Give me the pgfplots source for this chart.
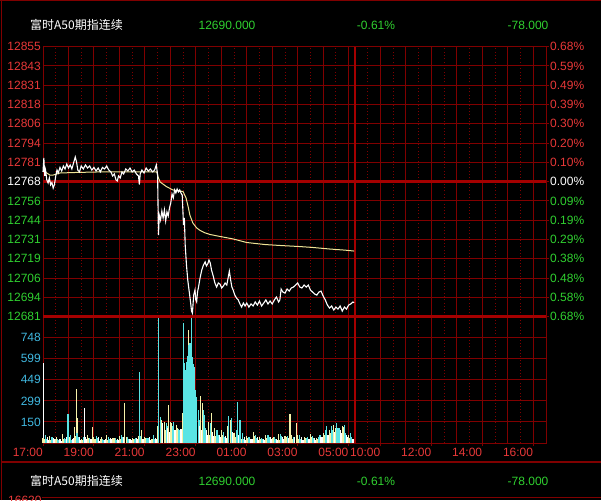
\documentclass[border=0pt]{standalone}
\usepackage{pgfplots}
\pgfplotsset{compat=1.18}
\usepackage{fontspec}
\setmainfont{Liberation Sans}
\newfontfamily\cjk{Noto Sans CJK SC}
\definecolor{gridred}{RGB}{128,0,0}
\definecolor{thickred}{RGB}{165,0,0}
\definecolor{lblred}{RGB}{232,56,56}
\definecolor{lblgreen}{RGB}{48,208,48}
\definecolor{lblcyan}{RGB}{64,184,224}
\definecolor{volcyan}{RGB}{90,228,228}
\definecolor{volyellow}{RGB}{246,242,170}
\definecolor{avgyellow}{RGB}{238,228,150}
\newcommand{\lf}{\fontsize{12}{14}\selectfont}
\pgfplotsset{
  base/.style={
    scale only axis, width=503pt, anchor=south west,
    xmin=0, xmax=1185,
    axis line style={gridred, line width=1pt},
    xtick={0,60,...,720,735,795,855,915,975,1035,1095,1155},
    minor xtick={30,90,...,690,765,825,885,945,1005,1065,1125},
    xticklabels={},
    xmajorgrids=true, xminorgrids=true, ymajorgrids=true,
    major grid style={gridred, line width=1pt},
    minor grid style={gridred, line width=0.9pt, dash pattern=on 0.9pt off 2.4pt},
    tick style={gridred, line width=1pt},
    major tick length=0pt, minor tick length=0pt,
    tick label style={font=\lf},
    clip=false,
  },
  vbar/.style={ycomb, line width=1.1pt, forget plot},
}
\begin{document}
\begin{tikzpicture}
\fill[black] (0pt,0pt) rectangle (601pt,500pt);
% frame lines
\draw[gridred, line width=1.2pt] (0pt,499.4pt) -- (601pt,499.4pt);
\draw[gridred, line width=1.2pt] (1.5pt,0pt) -- (1.5pt,500pt);
\draw[gridred, line width=1.2pt] (2pt,38pt) -- (601pt,38pt);
\draw[gridred, line width=1.2pt] (42pt,2.5pt) -- (601pt,2.5pt);
\node[anchor=north west, inner sep=0pt, text=lblred] at (8pt,4pt) {\lf 16620};
% header texts
\node[anchor=west, inner sep=0pt, text=white] at (30pt,475pt) {\cjk\lf 富时A50期指连续};
\node[inner sep=0pt, text=lblgreen] at (227pt,475pt) {\lf 12690.000};
\node[inner sep=0pt, text=lblgreen] at (376pt,475pt) {\lf -0.61\%};
\node[inner sep=0pt, text=lblgreen] at (528pt,475pt) {\lf -78.000};
\node[anchor=west, inner sep=0pt, text=white] at (30pt,19pt) {\cjk\lf 富时A50期指连续};
\node[inner sep=0pt, text=lblgreen] at (227pt,19pt) {\lf 12690.000};
\node[inner sep=0pt, text=lblgreen] at (376pt,19pt) {\lf -0.61\%};
\node[inner sep=0pt, text=lblgreen] at (528pt,19pt) {\lf -78.000};

% volume panel
\begin{axis}[base, at={(43pt,57pt)}, height=126.3pt,
  ymin=0, ymax=897.6,
  ytick={149.6,299.2,448.8,598.4,748},
  yticklabels={150,299,449,599,748},
  yticklabel style={text=lblcyan, anchor=east, inner sep=2pt},
  extra x ticks={0,120,240,360,480,600,720,795,915,1035,1155},
  extra x tick labels={17:00,19:00,21:00,23:00,01:00,03:00,05:00,10:00,12:00,14:00,16:00},
  extra x tick style={grid=none, major tick length=3pt, tick align=outside,
     xticklabel style={anchor=north east, inner sep=1pt, xshift=1pt, yshift=-1pt, text=lblred}},
]
\draw[thickred, line width=1.8pt] (axis cs:735,0) -- (axis cs:735,897.6);
% small background bars
\addplot[vbar, volyellow] coordinates {
(2.5,30) (17.5,20) (32.5,45) (47.5,25) (62.5,38) (77.5,50) (92.5,22) (107.5,35) (122.5,28) (137.5,40)
(152.5,18) (167.5,33) (182.5,26) (197.5,44) (212.5,30) (227.5,22) (242.5,36) (257.5,29) (272.5,48) (287.5,90)
(302.5,140) (317.5,110) (332.5,170) (347.5,130) (362.5,95) (377.5,70) (392.5,55) (407.5,48) (422.5,60) (437.5,30)
(452.5,42) (467.5,25) (482.5,38) (497.5,50) (512.5,28) (527.5,34) (542.5,45) (557.5,22) (572.5,40) (587.5,31)
(602.5,27) (617.5,36) (632.5,44) (647.5,30) (662.5,55) (677.5,70) (692.5,85) (707.5,60) (722.5,35)};
\addplot[vbar, volcyan] coordinates {
(7.5,25) (22.5,40) (37.5,18) (52.5,30) (67.5,22) (82.5,45) (97.5,28) (112.5,20) (127.5,35) (142.5,24)
(157.5,30) (172.5,19) (187.5,42) (202.5,27) (217.5,33) (232.5,21) (247.5,38) (262.5,26) (277.5,30) (292.5,120)
(307.5,150) (322.5,90) (337.5,200) (352.5,300) (367.5,160) (382.5,110) (397.5,75) (412.5,60) (427.5,45) (442.5,65)
(457.5,38) (472.5,28) (487.5,46) (502.5,33) (517.5,25) (532.5,40) (547.5,30) (562.5,48) (577.5,26) (592.5,35)
(607.5,29) (622.5,41) (637.5,32) (652.5,60) (667.5,80) (682.5,95) (697.5,110) (712.5,70) (727.5,40)};
\addplot[vbar, white] coordinates {
(12.5,20) (27.5,30) (42.5,15) (57.5,25) (72.5,35) (87.5,18) (102.5,28) (117.5,22) (132.5,16) (147.5,30)
(162.5,25) (177.5,20) (192.5,24) (207.5,18) (222.5,26) (237.5,30) (252.5,20) (267.5,25) (282.5,35) (297.5,80)
(312.5,95) (327.5,70) (342.5,130) (357.5,120) (372.5,90) (387.5,60) (402.5,50) (417.5,40) (432.5,35) (447.5,45)
(462.5,28) (477.5,20) (492.5,30) (507.5,24) (522.5,18) (537.5,26) (552.5,22) (567.5,30) (582.5,20) (597.5,25)
(612.5,22) (627.5,28) (642.5,24) (657.5,40) (672.5,55) (687.5,60) (702.5,70) (717.5,45) (732.5,25)};
% main bars
\addplot[vbar, white] coordinates {
(2,566) (10,40) (25,35) (40,25) (55,45) (70,30) (85,40) (97,251) (100,45) (113,30)
(130,45) (145,20) (160,35) (175,28) (190,40) (205,25) (220,38) (235,30) (250,42) (265,35)
(282,142) (293,110) (310,90) (325,100) (339,150) (353,200) (368,120) (385,90) (400,80) (415,60)
(430,50) (447,80) (460,55) (475,40) (490,30) (505,45) (520,25) (535,40) (550,30) (565,45)
(578,35) (593,42) (610,40) (625,30) (640,35) (655,45) (670,60) (687,80) (700,90) (715,60) (730,30)};
\addplot[vbar, volyellow] coordinates {
(0,35) (15,50) (30,28) (45,62) (62,40) (75,116) (78,384) (81,178) (90,30) (105,55)
(116,116) (120,42) (135,25) (150,60) (165,38) (180,47) (193,286) (210,33) (225,52) (232,90)
(240,45) (255,30) (270,120) (279,160) (286,150) (295,270) (300,150) (315,128) (328,210) (342,803)
(345,260) (361,180) (370,334) (375,282) (390,150) (397,211) (405,110) (420,90) (435,120) (441,160)
(450,70) (465,60) (480,50) (495,75) (510,42) (525,58) (540,36) (555,65) (570,48) (582,204)
(586,60) (597,142) (600,55) (615,40) (630,62) (645,38) (660,70) (675,95) (684,125) (690,110)
(705,120) (708,115) (720,55)};
\addplot[vbar, volcyan] coordinates {
(5,60) (20,45) (35,30) (50,38) (59,206) (65,55) (80,70) (95,40) (110,33) (125,50)
(140,28) (155,45) (170,35) (185,60) (200,40) (215,30) (227,507) (230,50) (245,38) (260,55)
(272,893) (276,187) (290,140) (305,120) (320,100) (331,850) (332,600) (333,568) (334.5,520) (336,483)
(337,540) (338.5,575) (340,620) (341,480) (343.5,700) (344.7,661) (346.3,710) (347.5,650) (348.6,560) (349.5,720)
(350.2,895) (351.3,610) (352.5,542) (354,560) (355.7,542) (357,450) (358,377) (360,380) (362,325) (366,235)
(378,235) (381,200) (395,140) (410,95) (425,80) (437,190) (444,180) (455,90) (458,294) (464,160)
(470,70) (485,45) (500,60) (515,35) (530,55) (545,40) (560,65) (575,50) (590,45) (605,60)
(620,38) (635,50) (650,42) (665,90) (668,120) (680,120) (692,140) (695,110) (710,130) (725,70)};
\end{axis}

% price panel
\begin{axis}[base, at={(43pt,183.3pt)}, height=270pt,
  ymin=12681, ymax=12855,
  ytick={12681,12693.4286,12705.8571,12718.2857,12730.7143,12743.1429,12755.5714,12768,12780.4286,12792.8571,12805.2857,12817.7143,12830.1429,12842.5714,12855},
  yticklabels={\textcolor{lblgreen}{12681},\textcolor{lblgreen}{12694},\textcolor{lblgreen}{12706},\textcolor{lblgreen}{12719},\textcolor{lblgreen}{12731},\textcolor{lblgreen}{12744},\textcolor{lblgreen}{12756},\textcolor{white}{12768},\textcolor{lblred}{12781},\textcolor{lblred}{12794},\textcolor{lblred}{12806},\textcolor{lblred}{12818},\textcolor{lblred}{12831},\textcolor{lblred}{12843},\textcolor{lblred}{12855}},
  yticklabel style={anchor=east, inner sep=2pt},
]
\draw[thickred, line width=2.6pt] (axis cs:0,12768) -- (axis cs:1185,12768);
\draw[thickred, line width=2.6pt] (axis cs:0,12681) -- (axis cs:1185,12681);
\draw[thickred, line width=1.8pt] (axis cs:735,12681) -- (axis cs:735,12855);
\addplot[avgyellow, line width=1pt] coordinates {
(0,12775.5) (9,12773.6) (16,12772.3) (24,12772.3) (40,12773.6) (71,12773.9) (134,12774.3) (205,12774.3)
(268,12774.3) (272,12770.4) (276,12767.8) (291,12764.8) (306,12762.7) (323,12762.0) (330,12761.6)
(337,12757.5) (342,12751.9) (346,12746.5) (353,12741.4) (362,12738.2) (370,12736.6) (382,12735.0)
(393,12734.0) (417,12732.7) (448,12731.1) (480,12728.8) (523,12727.5) (558,12726.9) (605,12726.2)
(636,12725.6) (676,12724.6) (711,12723.9) (733,12723.3)};
\addplot[white, line width=1.1pt] coordinates {
(0,12774.3) (2,12783.3) (4,12771.7) (6,12775.5) (9,12769.1) (12,12767.2) (15,12770.4) (18,12765.9)
(21,12767.5) (24,12763.9) (27,12766.2) (30,12771.7) (33,12775.5) (36,12773.6) (40,12777.2) (44,12774.9)
(48,12778.1) (52,12776.2) (56,12779.4) (60,12776.8) (64,12778.8) (68,12776.2) (72,12780.1) (76,12783.9)
(79,12780.7) (82,12775.5) (86,12774.3) (90,12778.1) (95,12776.2) (100,12778.8) (105,12776.8) (110,12778.1)
(115,12775.5) (120,12777.2) (125,12774.9) (130,12776.8) (135,12774.3) (140,12777.2) (145,12776.2) (150,12778.1)
(155,12775.5) (160,12774.3) (164,12771.7) (168,12773.0) (172,12769.1) (175,12768.5) (178,12771.7) (182,12770.4)
(186,12774.3) (190,12773.0) (195,12776.2) (200,12774.9) (205,12776.8) (210,12774.3) (215,12775.5) (220,12773.0)
(225,12771.7) (227,12766.2) (229,12773.0) (233,12775.5) (238,12773.6) (243,12776.8) (248,12774.9) (253,12776.2)
(258,12774.3) (263,12775.5) (267,12778.8) (270,12772.3) (272,12733.6) (274,12746.5) (277,12743.3) (280,12749.1)
(283,12744.6) (286,12749.8) (289,12742.7) (292,12748.5) (295,12745.9) (298,12751.1) (301,12754.3) (304,12760.1)
(307,12757.6) (310,12762.7) (313,12760.7) (316,12763.3) (319,12761.4) (322,12762.7) (325,12760.7) (328,12759.4)
(331,12740.1) (333,12744.6) (335,12727.2) (338,12714.3) (341,12704.7) (344,12698.2) (347,12691.8) (350,12684.6)
(352,12683.3) (355,12694.9) (358,12698.2) (360,12691.8) (362,12690.5) (364,12696.9) (366,12699.5) (370,12705.9)
(374,12711.1) (378,12714.3) (382,12716.3) (385,12713.7) (388,12715.0) (391,12717.5) (394,12715.6) (397,12711.1)
(401,12707.2) (405,12702.7) (409,12700.1) (413,12702.7) (417,12702.0) (421,12699.5) (425,12700.8) (429,12702.7)
(433,12701.4) (436,12705.9) (439,12710.4) (442,12704.7) (445,12700.1) (448,12698.2) (452,12694.9) (456,12693.0)
(460,12691.8) (464,12689.2) (468,12687.2) (472,12689.8) (476,12687.9) (480,12689.8) (485,12687.2) (490,12689.2)
(495,12687.9) (500,12690.5) (505,12688.5) (510,12691.1) (515,12687.9) (520,12689.8) (525,12691.8) (530,12689.2)
(535,12691.1) (540,12689.2) (545,12691.8) (550,12693.7) (555,12690.5) (558,12691.8) (561,12698.8) (565,12696.9)
(570,12696.2) (575,12698.8) (580,12697.5) (585,12699.5) (590,12700.1) (595,12701.4) (600,12702.7) (605,12700.1)
(610,12699.5) (615,12701.4) (620,12700.1) (625,12701.4) (630,12698.2) (635,12696.9) (640,12695.6) (645,12694.9)
(650,12696.9) (655,12697.5) (660,12694.3) (665,12691.8) (670,12688.5) (675,12686.6) (680,12687.9) (685,12685.3)
(690,12687.2) (695,12685.9) (700,12687.9) (705,12684.6) (710,12687.2) (715,12685.9) (720,12688.5) (725,12689.2)
(730,12690.5) (733,12690.0)};
\end{axis}

% right percentage axis
\begin{axis}[scale only axis, width=503pt, height=270pt, anchor=south west, at={(43pt,183.3pt)},
  xmin=0, xmax=1185, ymin=12681, ymax=12855,
  axis x line=none, axis y line*=right,
  axis line style={gridred, line width=1pt},
  tick style={gridred, line width=1pt}, major tick length=3pt, tick align=outside,
  ytick={12681,12693.4286,12705.8571,12718.2857,12730.7143,12743.1429,12755.5714,12768,12780.4286,12792.8571,12805.2857,12817.7143,12830.1429,12842.5714,12855},
  yticklabels={\textcolor{lblgreen}{0.68\%},\textcolor{lblgreen}{0.58\%},\textcolor{lblgreen}{0.48\%},\textcolor{lblgreen}{0.38\%},\textcolor{lblgreen}{0.29\%},\textcolor{lblgreen}{0.19\%},\textcolor{lblgreen}{0.09\%},\textcolor{white}{0.00\%},\textcolor{lblred}{0.10\%},\textcolor{lblred}{0.20\%},\textcolor{lblred}{0.30\%},\textcolor{lblred}{0.39\%},\textcolor{lblred}{0.49\%},\textcolor{lblred}{0.59\%},\textcolor{lblred}{0.68\%}},
  yticklabel style={anchor=west, inner sep=1pt, font=\lf},
]
\end{axis}
\pgfresetboundingbox
\path[use as bounding box] (0pt,0pt) rectangle (601pt,500pt);
\end{tikzpicture}
\end{document}
